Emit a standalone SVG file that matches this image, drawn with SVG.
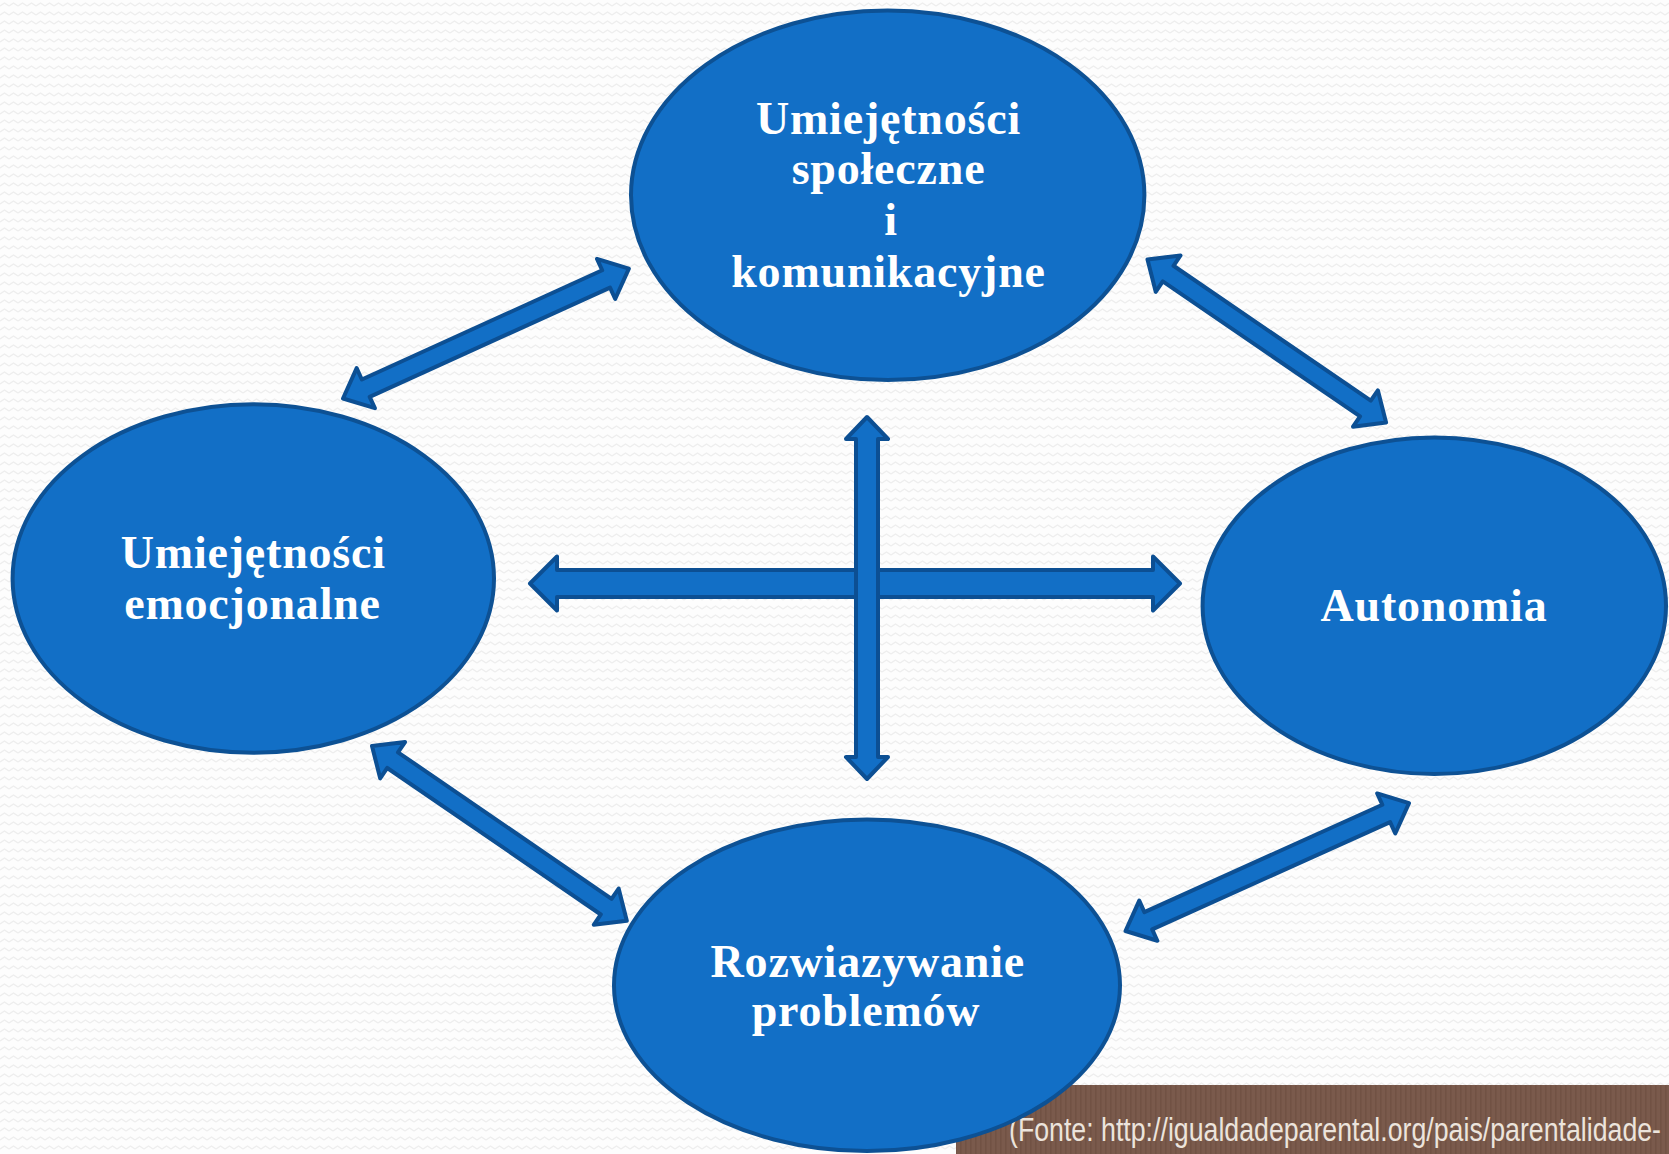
<svg xmlns="http://www.w3.org/2000/svg" width="1669" height="1154" viewBox="0 0 1669 1154">
<defs>
<pattern id="bg" width="9" height="9" patternUnits="userSpaceOnUse">
<rect width="9" height="9" fill="#fdfdfd"/>
<path d="M0,6 L4.5,3 L9,6" fill="none" stroke="#eeeeee" stroke-width="1.3"/>
</pattern>
<pattern id="stripes" width="5" height="10" patternUnits="userSpaceOnUse">
<rect width="5" height="10" fill="#7a5a4c"/>
<rect x="0" width="1.6" height="10" fill="#715244"/>
</pattern>
<style>
.node ellipse{fill:#126fc6;stroke:#0d5194;stroke-width:4}
.node text{font-family:"Liberation Serif","Times New Roman",serif;font-weight:bold;font-size:46px;fill:#ffffff;text-anchor:middle;letter-spacing:0.8px}
.arrow{fill:#126fc6;stroke:#0c4f93;stroke-width:4;stroke-linejoin:round}
.src{font-family:"Liberation Sans",Arial,sans-serif;font-size:34px;fill:#ece4dc}
</style>
</defs>
<rect width="1669" height="1154" fill="url(#bg)"/>
<g id="source">
<rect x="956" y="1085" width="713" height="69" fill="url(#stripes)"/>
<text class="src" x="1009" y="1141" textLength="652" lengthAdjust="spacingAndGlyphs">(Fonte: http://igualdadeparental.org/pais/parentalidade-</text>
</g>
<g id="connectors">
<path class="arrow" transform="translate(343,398.5) rotate(-24.44)" d="M0,0 L25,-22 L25,-9.5 L289,-9.5 L289,-22 L314,0 L289,22 L289,9.5 L25,9.5 L25,22 Z"/>
<path class="arrow" transform="translate(1147.5,259.5) rotate(34.36)" d="M0,0 L25,-22 L25,-9.5 L264,-9.5 L264,-22 L289,0 L264,22 L264,9.5 L25,9.5 L25,22 Z"/>
<path class="arrow" transform="translate(372,746) rotate(34.45)" d="M0,0 L25,-22 L25,-9.5 L284,-9.5 L284,-22 L309,0 L284,22 L284,9.5 L25,9.5 L25,22 Z"/>
<path class="arrow" transform="translate(1125.5,931) rotate(-24.27)" d="M0,0 L25,-22 L25,-9.5 L286,-9.5 L286,-22 L311,0 L286,22 L286,9.5 L25,9.5 L25,22 Z"/>
<path class="arrow" d="M530,583.5 L557,556.5 L557,570 L1153,570 L1153,556.5 L1180,583.5 L1153,610.5 L1153,597 L557,597 L557,610.5 Z"/>
<path class="arrow" d="M867,417 L888,439 L878,439 L878,757 L888,757 L867,779 L846,757 L856,757 L856,439 L846,439 Z"/>
</g>
<g id="node-social" class="node">
<ellipse cx="887.7" cy="195.3" rx="256.7" ry="184.8"/>
<text x="888.5" y="134">Umiejętności</text>
<text x="888.5" y="184">społeczne</text>
<text x="891" y="235">i</text>
<text x="888.5" y="287">komunikacyjne</text>
</g>
<g id="node-emotional" class="node">
<ellipse cx="253.3" cy="578.5" rx="240.7" ry="174.2"/>
<text x="253.3" y="568">Umiejętności</text>
<text x="252.5" y="619">emocjonalne</text>
</g>
<g id="node-autonomy" class="node">
<ellipse cx="1434.3" cy="605.7" rx="231.7" ry="168.3"/>
<text x="1434" y="621">Autonomia</text>
</g>
<g id="node-problems" class="node">
<ellipse cx="867" cy="985.3" rx="253" ry="165.8"/>
<text x="867.8" y="977">Rozwiazywanie</text>
<text x="866" y="1026">problemów</text>
</g>
</svg>
